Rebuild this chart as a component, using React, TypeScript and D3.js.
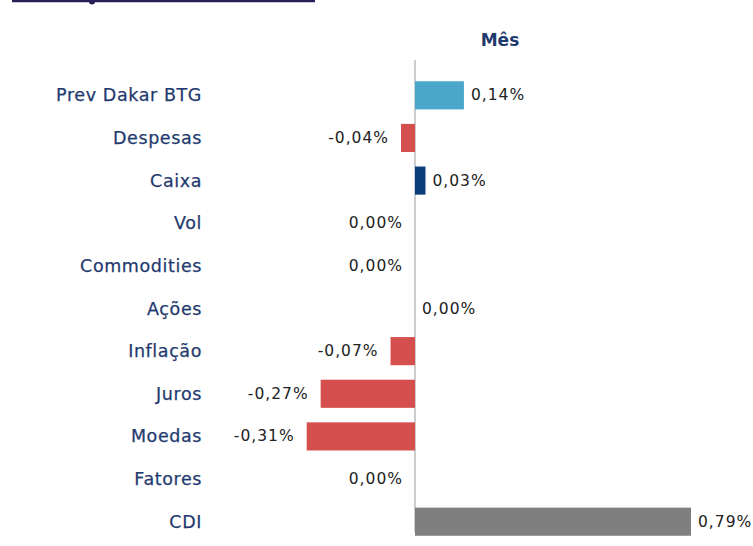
import React from "react";
import * as d3 from "d3";

const categories = ["Prev Dakar BTG", "Despesas", "Caixa", "Vol", "Commodities", "Ações", "Inflação", "Juros", "Moedas", "Fatores", "CDI"];
const values = [0.14, -0.04, 0.03, 0.0, 0.0, 0.0, -0.07, -0.27, -0.31, 0.0, 0.79];
const barColors = ["#4BA6CC", "#D64F4F", "#0B3F7C", "#D64F4F", "#D64F4F", "#4BA6CC", "#D64F4F", "#D64F4F", "#D64F4F", "#D64F4F", "#7F7F7F"];
// label placed on the negative side for zero values
const labelLeft = [false, true, false, true, true, false, true, true, true, true, false];
const title = "Mês";

const W = 753;
const H = 546;

export default function App() {
  const x = d3.scaleLinear().domain([0, 0.79]).range([415, 691]);
  const y = d3.scaleBand<string>().domain(categories).range([74, 543]).paddingInner(0.34).paddingOuter(0.17);
  const fmt = (v: number) => v.toFixed(2).replace(".", ",") + "%";
  const bw = y.bandwidth();
  return (
    <svg width={W} height={H} style={{ position: "absolute", left: 0, top: 0 }} fontFamily="DejaVu Sans, Verdana, sans-serif">
      <line x1={12} x2={315} y1={1} y2={1} stroke="#2B1E57" strokeWidth={2.5} />
      <circle cx={92} cy={1.5} r={3} fill="#2B1E57" />
      <text x={500} y={46} textAnchor="middle" fontWeight="bold" fontSize={17} fill="#1F3A6E">{title}</text>
      <line x1={x(0)} x2={x(0)} y1={60} y2={532} stroke="#BDBDBD" strokeWidth={1.5} />
      {categories.map((c, i) => {
        const v = values[i];
        const yc = (y(c) as number) + bw / 2;
        const x0 = Math.min(x(0), x(v));
        const x1 = Math.max(x(0), x(v));
        const left = labelLeft[i];
        return (
          <g key={c}>
            <text x={202} y={yc} textAnchor="end" dominantBaseline="central" fontSize={17.5} letterSpacing={0.6} fill="#1F3A6E" stroke="#1F3A6E" strokeWidth={0.25}>{c}</text>
            {x1 - x0 > 0 && <rect x={x0} y={y(c)} width={x1 - x0} height={bw} fill={barColors[i]} />}
            <text
              x={left ? x0 - 12 : x1 + 7}
              y={yc}
              textAnchor={left ? "end" : "start"}
              dominantBaseline="central"
              fontSize={15.5}
              letterSpacing={1}
              fill="#222"
            >
              {fmt(v)}
            </text>
          </g>
        );
      })}
    </svg>
  );
}
